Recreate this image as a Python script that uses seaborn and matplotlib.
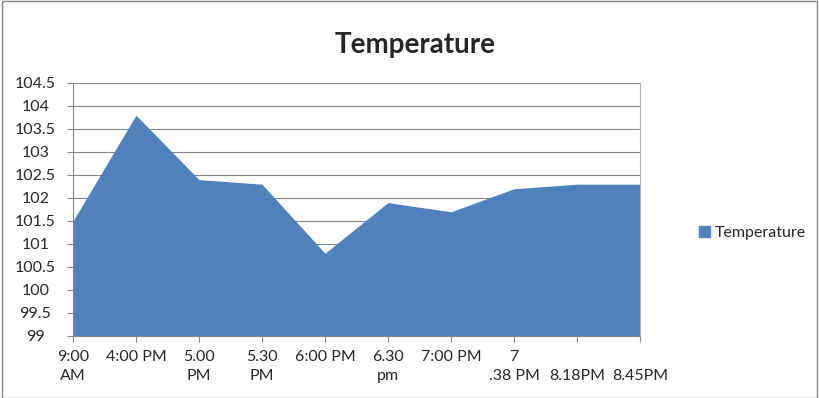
import pandas as pd
import matplotlib.pyplot as plt
import matplotlib.patches as mpatches
import seaborn as sns

# Data (the last two labels sit on the second text line)
times = ["9:00\nAM", "4:00 PM", "5.00\nPM", "5.30\nPM", "6:00 PM",
         "6.30\npm", "7:00 PM", "7\n.38 PM", "\n8.18PM", "\n8.45PM"]
temperature = [101.5, 103.8, 102.4, 102.3, 100.8, 101.9, 101.7, 102.2, 102.3, 102.3]
y_ticks = [99, 99.5, 100, 100.5, 101, 101.5, 102, 102.5, 103, 103.5, 104, 104.5]

df = pd.DataFrame({"pos": range(len(times)), "time": times, "Temperature": temperature})

sns.set_style("white")
plt.rcParams['font.family'] = ['Lato', 'DejaVu Sans']

blue = "#4F81BD"
fig = plt.figure(figsize=(8.19, 3.98), dpi=100)
ax = fig.add_axes([0.0891, 0.1558, 0.6923, 0.6357])

sns.lineplot(data=df, x="pos", y="Temperature", color=blue, linewidth=0, ax=ax)
ax.fill_between(df["pos"], 99, df["Temperature"], color=blue, linewidth=0, zorder=2)

ax.set_xlim(0, len(times) - 1)
ax.set_ylim(99, 104.5)
ax.set_yticks(y_ticks)
ax.set_yticklabels([f"{v:g}" for v in y_ticks], fontsize=11.5, ha="center")
ax.set_xticks(df["pos"])
ax.set_xticklabels(times, fontsize=11.5, va="top", ha="center", linespacing=1.45)
ax.set_xlabel("")
ax.set_ylabel("")

ax.grid(axis="y", color="#868686", linewidth=0.8, zorder=0)
ax.set_axisbelow(True)
ax.spines["top"].set_visible(False)
ax.spines["left"].set_color("#868686")
ax.spines["bottom"].set_color("#868686")
ax.spines["right"].set_color("#b0b0b0")
ax.tick_params(axis="both", length=4, color="#868686", direction="out")
ax.tick_params(axis="x", bottom=True, pad=6)
ax.tick_params(axis="y", left=True, pad=23)

fig.text(0.507, 0.887, "Temperature", ha="center", va="center",
         fontsize=20, fontweight="bold")

handle = mpatches.Patch(color=blue, label="Temperature")
fig.legend(handles=[handle], loc="center left", bbox_to_anchor=(0.836, 0.415),
           frameon=False, fontsize=11.5, handlelength=0.7, handleheight=0.7,
           handletextpad=0.3)

fig.patches.append(mpatches.Rectangle((0.002, 0.0), 0.996, 0.998,
                                      transform=fig.transFigure, fill=False,
                                      edgecolor="#868686", linewidth=1))

plt.savefig("out.png", dpi=100)
